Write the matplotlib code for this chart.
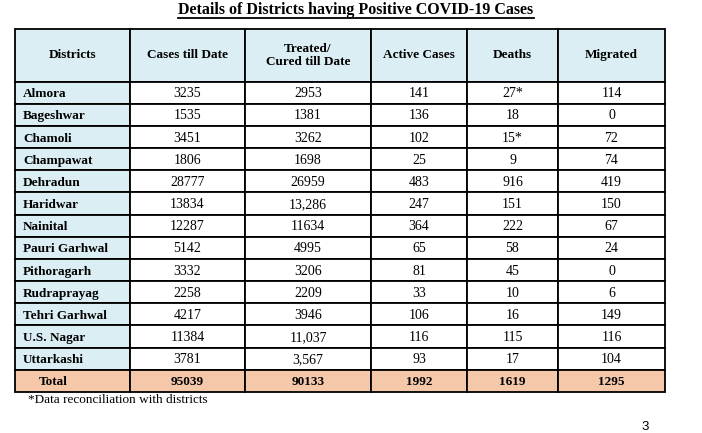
import matplotlib.pyplot as plt
from matplotlib.patches import Rectangle

title = 'Details of Districts having Positive COVID-19 Cases'
headers = ['Districts', 'Cases till Date', 'Treated/\nCured till Date',
           'Active Cases', 'Deaths', 'Migrated']
districts = ['Almora', 'Bageshwar', 'Chamoli', 'Champawat', 'Dehradun', 'Haridwar',
             'Nainital', 'Pauri Garhwal', 'Pithoragarh', 'Rudraprayag',
             'Tehri Garhwal', 'U.S. Nagar', 'Uttarkashi']
cases = ['3235', '1535', '3451', '1806', '28777', '13834', '12287', '5142',
         '3332', '2258', '4217', '11384', '3781']
treated = ['2953', '1381', '3262', '1698', '26959', '13,286', '11634', '4995',
           '3206', '2209', '3946', '11,037', '3,567']
active = ['141', '136', '102', '25', '483', '247', '364', '65', '81', '33',
          '106', '116', '93']
deaths = ['27*', '18', '15*', '9', '916', '151', '222', '58', '45', '10',
          '16', '115', '17']
migrated = ['114', '0', '72', '74', '419', '150', '67', '24', '0', '6',
            '149', '116', '104']
total = ['Total', '95039', '90133', '1992', '1619', '1295']
footnote = '*Data reconciliation with districts'
page_no = '3'

# layout (pixels)
col_edges = [15, 130, 245, 371, 467, 558, 665]
top, head_bot, bottom = 29, 81.5, 392
blue = '#dbeef3'
peach = '#f6c8aa'
serif = 'Liberation Serif'
base_off = 4.6  # baseline offset below the row centre

fig = plt.figure(figsize=(7.02, 4.33), dpi=100)
ax = fig.add_axes([0, 0, 1, 1])
ax.set_xlim(0, 702)
ax.set_ylim(433, 0)
ax.axis('off')

n_rows = len(districts) + 1
row_h = (bottom - head_bot) / n_rows
columns = [districts, cases, treated, active, deaths, migrated]

# header
for j in range(6):
    x0, x1 = col_edges[j], col_edges[j + 1]
    ax.add_patch(Rectangle((x0, top), x1 - x0, head_bot - top, facecolor=blue,
                           edgecolor='black', lw=1.3))
    ax.text((x0 + x1) / 2, (top + head_bot) / 2, headers[j], ha='center',
            va='center', family=serif, weight='bold', fontsize=9.5,
            linespacing=1.15)

# body rows
for i in range(len(districts)):
    y0 = head_bot + i * row_h
    yb = y0 + row_h / 2 + base_off
    for j in range(6):
        x0, x1 = col_edges[j], col_edges[j + 1]
        fc = blue if j == 0 else 'white'
        ax.add_patch(Rectangle((x0, y0), x1 - x0, row_h, facecolor=fc,
                               edgecolor='black', lw=1.3))
        val = columns[j][i]
        if j == 0:
            ax.text(x0 + 8, yb, val, ha='left', va='baseline', family=serif,
                    weight='bold', fontsize=9.5)
        else:
            ax.text((x0 + x1) / 2, yb, val, ha='center', va='baseline',
                    family=serif, fontsize=10)

# total row
y0 = head_bot + len(districts) * row_h
yb = y0 + row_h / 2 + base_off - 0.5
for j in range(6):
    x0, x1 = col_edges[j], col_edges[j + 1]
    ax.add_patch(Rectangle((x0, y0), x1 - x0, row_h, facecolor=peach,
                           edgecolor='black', lw=1.3))
    if j == 0:
        ax.text(x0 + 24, yb, total[j], ha='left', va='baseline', family=serif,
                weight='bold', fontsize=9.5)
    else:
        ax.text((x0 + x1) / 2, yb, total[j], ha='center', va='baseline',
                family=serif, weight='bold', fontsize=9.5)

# title, underlined
t = ax.text(356, 10.5, title, ha='center', va='center', family=serif,
            weight='bold', fontsize=11.5)
fig.canvas.draw()
bb = t.get_window_extent().transformed(ax.transData.inverted())
ax.plot([bb.x0, bb.x1], [18, 18], color='black', lw=1.3)

ax.text(28, 400, footnote, ha='left', va='center', family=serif, fontsize=9.5)
ax.text(645, 427, page_no, ha='center', va='center', family='Liberation Sans',
        fontsize=9.5)

fig.savefig('out.png', dpi=100)
